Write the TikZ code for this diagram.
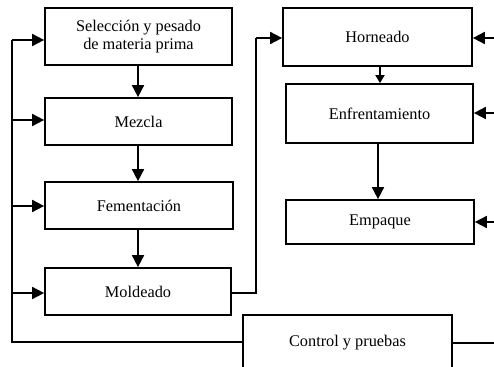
\documentclass[tikz,border=0pt]{standalone}
\usepackage{fontspec}
\setmainfont{Liberation Serif}
\usetikzlibrary{arrows.meta}
\begin{document}
\begin{tikzpicture}[x=1pt,y=-1pt,
  box/.style={draw, line width=1.7pt, align=center, inner sep=0pt, font=\fontsize{16.3}{18.5}\selectfont},
  arr/.style={line width=1.7pt, -{Triangle[length=12pt,width=12pt]}},
  sarr/.style={line width=1.7pt, -{Triangle[length=8pt,width=9pt]}},
  ln/.style={line width=1.7pt}]
\useasboundingbox (0,0) rectangle (494,366);
\clip (0,0) rectangle (494,366);
% left column
\node[box, minimum width=187pt, minimum height=57pt] (b1) at (138.5,36.5) {Selección y pesado\\de materia prima};
\node[box, minimum width=187pt, minimum height=47pt] (b2) at (138.5,121.5) {Mezcla};
\node[box, minimum width=188pt, minimum height=47pt] (b3) at (139,205.5) {Fementación};
\node[box, minimum width=186pt, minimum height=47pt] (b4) at (138,291.5) {Moldeado};
% right column
\node[box, minimum width=189pt, minimum height=58pt] (b5) at (377.5,37) {Horneado};
\node[box, minimum width=187pt, minimum height=59pt] (b6) at (379.5,113.5) {Enfrentamiento};
\node[box, minimum width=188pt, minimum height=44pt] (b7) at (380,222) {Empaque};
\node[box, minimum width=209pt, minimum height=56pt] (c) at (347.5,343) {Control y pruebas};
% vertical flow arrows
\draw[arr] (b1.south -| 138,0) -- (b2.north -| 138,0);
\draw[arr] (b2.south -| 138,0) -- (b3.north -| 138,0);
\draw[arr] (b3.south -| 138,0) -- (b4.north -| 138,0);
\draw[sarr] (b5.south -| 380,0) -- (b6.north -| 380,0);
\draw[arr] (b6.south -| 378,0) -- (b7.north -| 378,0);
% Moldeado to Horneado
\coordinate (m1) at (256,293);
\coordinate (m2) at (256,38);
\draw[ln] (b4.east |- m1) -- (m1) -- (m2);
\draw[arr] (m2) -- (b5.west |- m2);
% left feedback line
\coordinate (l1) at (12,40);
\coordinate (l2) at (12,120);
\coordinate (l3) at (12,206);
\coordinate (l4) at (12,293);
\coordinate (l5) at (12,342);
\draw[ln] (l1) -- (l5) -- (c.west |- l5);
\draw[arr] (l1) -- (b1.west |- l1);
\draw[arr] (l2) -- (b2.west |- l2);
\draw[arr] (l3) -- (b3.west |- l3);
\draw[arr] (l4) -- (b4.west |- l4);
% right side
\coordinate (r1) at (498,38);
\coordinate (r2) at (498,113);
\coordinate (r3) at (498,222);
\coordinate (r4) at (498,343);
\draw[arr] (r1) -- (b5.east |- r1);
\draw[arr] (r2) -- (b6.east |- r2);
\draw[arr] (r3) -- (b7.east |- r3);
\draw[ln] (c.east |- r4) -- (r4);
\end{tikzpicture}
\end{document}
